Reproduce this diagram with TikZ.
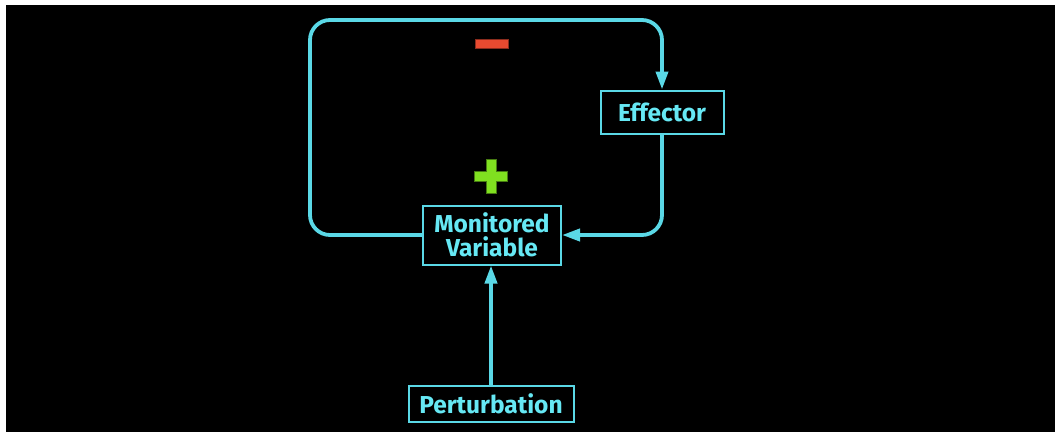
\documentclass[tikz,border=0pt]{standalone}
\usepackage{fontspec}
\setmainfont{Fira Sans}
\usetikzlibrary{arrows.meta}
\definecolor{loopcyan}{HTML}{5AD8E6}
\definecolor{labelcyan}{HTML}{66E8F4}
\definecolor{minusred}{HTML}{E84A30}
\definecolor{plusgreen}{HTML}{80E020}
\tikzset{
  block/.style={draw=loopcyan, line width=2pt, fill=black, text=labelcyan,
    font=\fontsize{24.5}{23.5}\selectfont\bfseries, align=center, inner sep=0pt},
  conn/.style={draw=loopcyan, line width=3.8pt, rounded corners=20pt,
    -{Triangle[length=18pt,width=12pt]}},
}
\begin{document}
\begin{tikzpicture}[x=1pt,y=-1pt]
  % page: white strip on the left and top, black stage
  \fill[white] (0,0) rectangle (1055,432);
  \fill[black] (6,5) rectangle (1055,432);
  \useasboundingbox (0,0) rectangle (1055,432);

  \node[block, minimum width=138pt, minimum height=59pt] (mv) at (492,235)
    {Monitored\\Variable};
  \node[block, minimum width=123pt, minimum height=43pt] (eff) at (662,112) {Effector};
  \node[block, minimum width=165pt, minimum height=36pt] (pert) at (491,404) {Perturbation};
  \coordinate (tl) at (310,20);

  % negative feedback loop around the monitored variable
  \draw[conn] (mv.west) -| (tl) -| (eff.north);
  \draw[conn] (eff.south) |- (mv.east);
  % disturbance entering from below
  \draw[conn] (pert.north) -- (pert.north |- mv.south);

  % signs
  \filldraw[fill=minusred, draw=minusred!60!black, line width=0.8pt]
    (475,39) rectangle (508,48);
  \filldraw[fill=plusgreen, draw=plusgreen!55!black, line width=0.8pt]
    (486,159) -- (496,159) -- (496,171) -- (507,171) -- (507,181) -- (496,181)
    -- (496,193) -- (486,193) -- (486,181) -- (474,181) -- (474,171) -- (486,171) -- cycle;
\end{tikzpicture}
\end{document}
